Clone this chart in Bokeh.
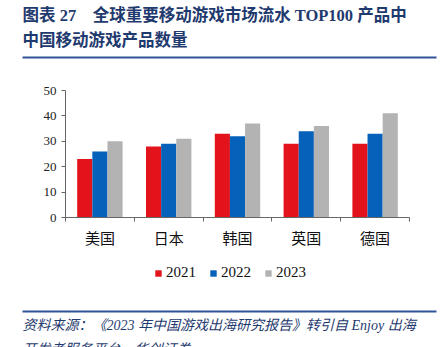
from bokeh.plotting import figure
from bokeh.layouts import column
from bokeh.models import (FactorRange, Range1d, LinearAxis, FixedTicker,
                          Label, Legend, LegendItem, ColumnDataSource)
from bokeh.transform import dodge
from bokeh.embed import file_html
from bokeh.resources import INLINE

# ---- data ----
countries = ["美国", "日本", "韩国", "英国", "德国"]
years = ["2021", "2022", "2023"]
v2021 = [23, 28, 33, 29, 29]
v2022 = [26, 29, 32, 34, 33]
v2023 = [30, 31, 37, 36, 41]
y_ticks = [0, 10, 20, 30, 40, 50]

title1 = "图表 27\u3000全球重要移动游戏市场流水 TOP100 产品中"
title2 = "中国移动游戏产品数量"
source1 = "资料来源：《2023 年中国游戏出海研究报告》转引自 Enjoy 出海"
source2 = "开发者服务平台，华创证券"

# ---- style ----
colors = ["#E3131B", "#0561BA", "#B3B3B3"]
navy = "#1F3A6E"
rule_col = "#2F5597"
serif_cjk = "'Liberation Serif', 'Noto Sans CJK SC'"
W = 440
H_TOP, H_CHART, H_BOT = 62, 193, 92
axis_col = "#666666"


def no_align(f):
    try:
        f.frame_align = False
    except AttributeError:
        pass


def blank_fig(h):
    f = figure(width=W, height=h, x_range=Range1d(0, W), y_range=Range1d(0, h),
               output_backend="svg", toolbar_location=None,
               x_axis_location=None, y_axis_location=None,
               min_border=0, min_border_left=0, min_border_right=0,
               min_border_top=0, min_border_bottom=0)
    f.outline_line_color = None
    f.xgrid.visible = False
    f.ygrid.visible = False
    no_align(f)
    return f


def text_label(f, h, x, y_from_top, text, size, style):
    f.add_layout(Label(x=x, y=h - y_from_top, text=text, text_font=serif_cjk,
                       text_font_size=size, text_font_style=style, text_color=navy,
                       text_baseline="middle"))


def rule(f, h, y_from_top):
    # decorative horizontal rule of the report template
    y = h - y_from_top
    f.segment(x0=[22], y0=[y], x1=[436], y1=[y], line_color=rule_col, line_width=2)


# ---- header ----
top = blank_fig(H_TOP)
text_label(top, H_TOP, 22, 15, title1, "16.5px", "bold")
text_label(top, H_TOP, 22, 40, title2, "16.5px", "bold")
rule(top, H_TOP, 57)

# ---- chart ----
src = ColumnDataSource(dict(country=countries, y2021=v2021, y2022=v2022, y2023=v2023))
p = figure(width=W, height=H_CHART, x_range=FactorRange(*countries), y_range=Range1d(0, 50),
           output_backend="svg", toolbar_location=None, x_axis_location=None,
           y_axis_location="left",
           min_border_left=65, min_border_right=31, min_border_top=28, min_border_bottom=38)
p.outline_line_color = None
p.xgrid.visible = False
p.ygrid.visible = False
no_align(p)

p.yaxis.ticker = FixedTicker(ticks=y_ticks)
p.yaxis.major_tick_out = 4
p.yaxis.major_tick_in = 0
p.yaxis.minor_tick_line_color = None
p.yaxis.axis_line_color = axis_col
p.yaxis.major_tick_line_color = axis_col
p.yaxis.major_label_text_font = "Liberation Serif"
p.yaxis.major_label_text_font_size = "13px"
p.yaxis.major_label_text_color = "#222222"
p.yaxis.major_label_standoff = 5

n = len(countries)
centers = [i + 0.5 for i in range(n)]
x_axis = LinearAxis(ticker=FixedTicker(ticks=centers, minor_ticks=list(range(n + 1))),
                    major_label_overrides={c: name for c, name in zip(centers, countries)},
                    major_tick_line_color=None, minor_tick_out=4, minor_tick_in=0,
                    minor_tick_line_color=axis_col, axis_line_color=axis_col,
                    major_label_text_font="Noto Sans CJK SC",
                    major_label_text_font_size="15px",
                    major_label_text_color="#111111",
                    major_label_standoff=3)
p.add_layout(x_axis, "below")

for off, col, year in zip([-0.22, 0.0, 0.22], colors, years):
    p.vbar(x=dodge("country", off, range=p.x_range), top="y" + year, width=0.22,
           source=src, fill_color=col, line_color=None)

# ---- footer: legend + source ----
bot = blank_fig(H_BOT)
items = []
for col, year in zip(colors, years):
    # zero-size proxy glyph, only used to draw the legend swatch
    r = bot.vbar(x=0, top=0, bottom=0, width=0, fill_color=col, line_color=None)
    items.append(LegendItem(label=year, renderers=[r]))
legend = Legend(items=items, orientation="horizontal", location=(154, 66),
                glyph_width=8, glyph_height=8, label_standoff=4, spacing=13,
                label_text_font="Liberation Serif", label_text_font_size="15px",
                label_text_color="#111111", border_line_color=None,
                background_fill_alpha=0, padding=0, margin=0)
bot.add_layout(legend, "center")
rule(bot, H_BOT, 56)
text_label(bot, H_BOT, 22, 70, source1, "14px", "italic")
text_label(bot, H_BOT, 22, 94, source2, "14px", "italic")

layout = column(top, p, bot, spacing=0)
open("out.html", "w").write(file_html(layout, INLINE))
